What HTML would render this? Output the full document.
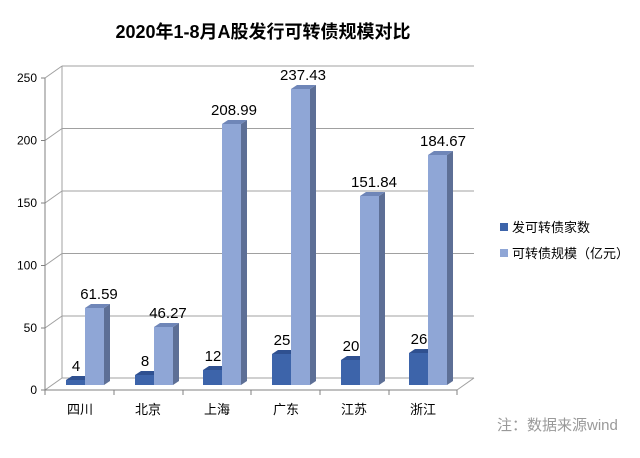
<!DOCTYPE html>
<html><head><meta charset="utf-8"><style>
body{margin:0;background:#fff}
svg{display:block;font-family:"Liberation Sans","Noto Sans CJK SC",sans-serif}
</style></head><body>
<svg width="640" height="458" viewBox="0 0 640 458" xmlns="http://www.w3.org/2000/svg">
<rect width="640" height="458" fill="#fff"/>
<text x="263" y="38" font-size="18" font-weight="bold" text-anchor="middle" fill="#000">2020年1-8月A股发行可转债规模对比</text>
<g stroke="#a0a0a0" stroke-width="1" fill="none">
<line x1="62" y1="66" x2="474" y2="66"/>
<line x1="62" y1="128.5" x2="474" y2="128.5"/>
<line x1="62" y1="191" x2="474" y2="191"/>
<line x1="62" y1="253.5" x2="474" y2="253.5"/>
<line x1="62" y1="316" x2="474" y2="316"/>
<line x1="62" y1="378" x2="474" y2="378"/>
<line x1="62" y1="66" x2="62" y2="378"/>
<line x1="45" y1="78" x2="62" y2="66"/>
<line x1="45" y1="140.5" x2="62" y2="128.5"/>
<line x1="45" y1="203" x2="62" y2="191"/>
<line x1="45" y1="265.5" x2="62" y2="253.5"/>
<line x1="45" y1="328" x2="62" y2="316"/>
<line x1="45" y1="390" x2="62" y2="378"/>
<line x1="457" y1="390" x2="474" y2="378"/>
</g>
<g stroke="#808080" stroke-width="1">
<line x1="45" y1="78" x2="45" y2="390"/>
<line x1="45" y1="390" x2="457" y2="390"/>
<line x1="41" y1="78" x2="45" y2="78"/><line x1="41" y1="140.5" x2="45" y2="140.5"/>
<line x1="41" y1="203" x2="45" y2="203"/><line x1="41" y1="265.5" x2="45" y2="265.5"/>
<line x1="41" y1="328" x2="45" y2="328"/><line x1="41" y1="390" x2="45" y2="390"/>
<line x1="45" y1="390" x2="45" y2="395"/><line x1="114" y1="390" x2="114" y2="395"/>
<line x1="183" y1="390" x2="183" y2="395"/><line x1="251" y1="390" x2="251" y2="395"/>
<line x1="320" y1="390" x2="320" y2="395"/><line x1="389" y1="390" x2="389" y2="395"/>
<line x1="457" y1="390" x2="457" y2="395"/>
</g>
<g font-size="12" fill="#000" text-anchor="end">
<text x="37" y="82">250</text><text x="37" y="144.5">200</text><text x="37" y="207">150</text>
<text x="37" y="269.5">100</text><text x="37" y="332">50</text><text x="37" y="394">0</text>
</g>
<g font-size="13" fill="#000" text-anchor="middle">
<text x="80" y="414">四川</text><text x="148" y="414">北京</text><text x="217" y="414">上海</text>
<text x="286" y="414">广东</text><text x="354" y="414">江苏</text><text x="423" y="414">浙江</text>
</g>

<g>
<polygon points="85,380 91,376 91,381 85,385" fill="#2b4a85"/><polygon points="66,380 72,376 91,376 85,380" fill="#2f5090"/><rect x="66" y="380" width="19" height="5" fill="#3d64aa"/>
<polygon points="154,375 160,371 160,381 154,385" fill="#2b4a85"/><polygon points="135,375 141,371 160,371 154,375" fill="#2f5090"/><rect x="135" y="375" width="19" height="10" fill="#3d64aa"/>
<polygon points="222,370 228,366 228,381 222,385" fill="#2b4a85"/><polygon points="203,370 209,366 228,366 222,370" fill="#2f5090"/><rect x="203" y="370" width="19" height="15" fill="#3d64aa"/>
<polygon points="291,354 297,350 297,381 291,385" fill="#2b4a85"/><polygon points="272,354 278,350 297,350 291,354" fill="#2f5090"/><rect x="272" y="354" width="19" height="31" fill="#3d64aa"/>
<polygon points="360,360 366,356 366,381 360,385" fill="#2b4a85"/><polygon points="341,360 347,356 366,356 360,360" fill="#2f5090"/><rect x="341" y="360" width="19" height="25" fill="#3d64aa"/>
<polygon points="428,353 434,349 434,381 428,385" fill="#2b4a85"/><polygon points="409,353 415,349 434,349 428,353" fill="#2f5090"/><rect x="409" y="353" width="19" height="32" fill="#3d64aa"/>
</g>
<g>
<polygon points="104,308 110,304 110,381 104,385" fill="#5d6f96"/><polygon points="85,308 91,304 110,304 104,308" fill="#6f86b8"/><rect x="85" y="308" width="19" height="77" fill="#8fa6d6"/>
<polygon points="173,327 179,323 179,381 173,385" fill="#5d6f96"/><polygon points="154,327 160,323 179,323 173,327" fill="#6f86b8"/><rect x="154" y="327" width="19" height="58" fill="#8fa6d6"/>
<polygon points="241,124 247,120 247,381 241,385" fill="#5d6f96"/><polygon points="222,124 228,120 247,120 241,124" fill="#6f86b8"/><rect x="222" y="124" width="19" height="261" fill="#8fa6d6"/>
<polygon points="310,89 316,85 316,381 310,385" fill="#5d6f96"/><polygon points="291,89 297,85 316,85 310,89" fill="#6f86b8"/><rect x="291" y="89" width="19" height="296" fill="#8fa6d6"/>
<polygon points="379,196 385,192 385,381 379,385" fill="#5d6f96"/><polygon points="360,196 366,192 385,192 379,196" fill="#6f86b8"/><rect x="360" y="196" width="19" height="189" fill="#8fa6d6"/>
<polygon points="447,155 453,151 453,381 447,385" fill="#5d6f96"/><polygon points="428,155 434,151 453,151 447,155" fill="#6f86b8"/><rect x="428" y="155" width="19" height="230" fill="#8fa6d6"/>
</g>
<g font-size="15" fill="#000" text-anchor="middle">
<text x="76" y="371">4</text><text x="99" y="299">61.59</text>
<text x="145" y="366">8</text><text x="168" y="318">46.27</text>
<text x="213" y="361">12</text><text x="234" y="115">208.99</text>
<text x="282" y="345">25</text><text x="303" y="80">237.43</text>
<text x="351" y="351">20</text><text x="374" y="187">151.84</text>
<text x="419" y="344">26</text><text x="443" y="146">184.67</text>
</g>
<rect x="500" y="223" width="8" height="8" fill="#3d64aa"/>
<text x="512" y="232" font-size="13" fill="#000">发可转债家数</text>
<rect x="500" y="249" width="8" height="8" fill="#8fa6d6"/>
<text x="512" y="258" font-size="13" fill="#000">可转债规模（亿元）</text>
<text x="497" y="430" font-size="15" fill="#999">注：数据来源wind</text>
</svg>
</body></html>
